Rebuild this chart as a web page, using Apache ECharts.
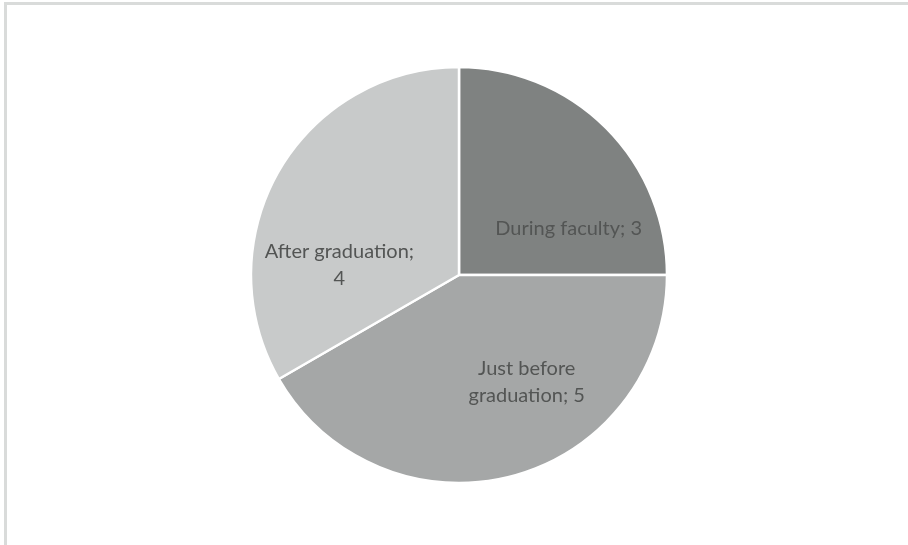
<!DOCTYPE html>
<html>
<head>
<meta charset="utf-8">
<script src="https://cdn.jsdelivr.net/npm/echarts@6/dist/echarts.min.js"></script>
<style>
  html, body { margin: 0; padding: 0; background: #fff; }
  #chart { width: 908px; height: 545px; }
</style>
</head>
<body>
<div id="chart"></div>
<script>
// pie data
var categories = ['During faculty', 'Just before graduation', 'After graduation'];
var values = [3, 5, 4];
var sliceColors = ['#7f8281', '#a5a7a7', '#c8caca'];
// nudges so the labels sit where the original puts them
var labelOffsets = [[34, 29], [40, 4], [-27, 44]];
var labelTexts = ['During faculty; 3', 'Just before\ngraduation; 5', 'After graduation;\n4'];

var chart = echarts.init(document.getElementById('chart'));

var data = categories.map(function (name, i) {
  return {
    name: name,
    value: values[i],
    itemStyle: { color: sliceColors[i] },
    label: { offset: labelOffsets[i], formatter: labelTexts[i] }
  };
});

chart.setOption({
  animation: false,
  graphic: [
    { type: 'rect', shape: { x: 4, y: 2, width: 904, height: 3 }, style: { fill: '#d9dbda' } },
    { type: 'rect', shape: { x: 4, y: 2, width: 3, height: 543 }, style: { fill: '#d9dbda' } }
  ],
  series: [{
    type: 'pie',
    center: [459, 275],
    radius: [0, 208],
    startAngle: 90,
    clockwise: true,
    itemStyle: { borderColor: '#ffffff', borderWidth: 2.5 },
    label: {
      show: true,
      position: 'inside',
      color: '#535554',
      fontFamily: 'Lato',
      fontSize: 20,
      lineHeight: 27,
      align: 'center'
    },
    labelLine: { show: false },
    emphasis: { disabled: true },
    data: data
  }]
});
</script>
</body>
</html>
